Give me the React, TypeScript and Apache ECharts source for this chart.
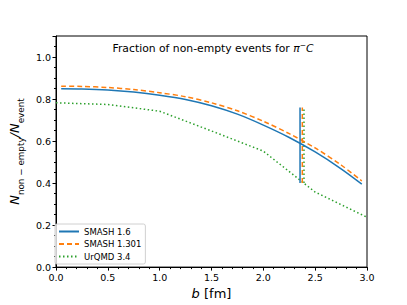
import React, { useEffect, useRef } from "react";
import * as echarts from "echarts";

const bSmash = [0.05, 0.25, 0.5, 0.75, 1.0, 1.25, 1.5, 1.75, 2.0, 2.25, 2.5, 2.75, 2.95];
const smash16 = [0.849, 0.848, 0.843, 0.833, 0.818, 0.798, 0.768, 0.728, 0.676, 0.617, 0.548, 0.468, 0.395];
const smash1301 = [0.861, 0.86, 0.855, 0.845, 0.83, 0.811, 0.782, 0.744, 0.694, 0.635, 0.567, 0.486, 0.41];
const bUrqmd = [0.0, 0.5, 1.0, 1.5, 2.0, 2.5, 3.0];
const urqmd = [0.782, 0.774, 0.742, 0.648, 0.552, 0.357, 0.237];
const seriesNames = ["SMASH 1.6", "SMASH 1.301", "UrQMD 3.4"];
const markerB = [2.354, 2.376, 2.392];
const markerRange = [0.4, 0.76];
const colors = ["#1f77b4", "#ff7f0e", "#2ca02c"];
const lineTypes: any[] = ["solid", [5, 3], [1.5, 2.5]];

const FONT = "DejaVu Sans";

export default function App() {
  const ref = useRef<HTMLDivElement>(null);
  useEffect(() => {
    if (!ref.current) return;
    const chart = echarts.init(ref.current, null, { renderer: "svg" });
    const curves = [
      bSmash.map((b, i) => [b, smash16[i]]),
      bSmash.map((b, i) => [b, smash1301[i]]),
      bUrqmd.map((b, i) => [b, urqmd[i]]),
    ];
    const series: any[] = [];
    curves.forEach((d, i) => {
      series.push({
        name: seriesNames[i],
        type: "line",
        data: d,
        smooth: i < 2 ? 0.3 : false,
        symbol: "none",
        showSymbol: false,
        lineStyle: { color: colors[i], width: 1.5, type: lineTypes[i] },
        itemStyle: { color: colors[i] },
        z: 3 - i,
      });
    });
    markerB.forEach((b, i) => {
      series.push({
        name: "marker" + i,
        type: "line",
        data: [
          [b, markerRange[0]],
          [b, markerRange[1]],
        ],
        symbol: "none",
        lineStyle: { color: colors[i], width: 1.5, type: lineTypes[i] },
        z: 3 - i,
      });
    });
    chart.setOption({
      animation: false,
      textStyle: { fontFamily: FONT },
      title: {
        text: "{a|Fraction of non-empty events for }{i|π}{s|−}{i|C}",
        left: 208,
        textAlign: "center",
        top: 36,
        textStyle: {
          fontWeight: "normal",
          rich: {
            a: { fontFamily: FONT, fontSize: 10.8, fontWeight: "normal", color: "#000" },
            i: { fontFamily: FONT, fontSize: 10.8, fontStyle: "italic", fontWeight: "normal", color: "#000" },
            s: { fontFamily: FONT, fontSize: 7.5, fontWeight: "normal", color: "#000", verticalAlign: "top", lineHeight: 14 },
          },
        },
      },
      legend: {
        left: 55,
        top: 224,
        orient: "vertical",
        data: seriesNames,
        itemWidth: 20,
        itemHeight: 10,
        itemGap: 3.5,
        padding: [3, 4, 3, 3],
        borderColor: "#d0d0d0",
        borderWidth: 1,
        borderRadius: 2,
        backgroundColor: "rgba(255,255,255,0.8)",
        itemStyle: { opacity: 0 },
        textStyle: { fontFamily: FONT, fontSize: 8.5, color: "#000" },
      },
      grid: {
        left: 51,
        right: 40,
        top: 36,
        bottom: 34,
        show: true,
        borderColor: "#000",
        borderWidth: 1,
      },
      xAxis: {
        type: "value",
        min: 0,
        max: 3,
        interval: 0.5,
        name: "{i|b} [fm]",
        nameLocation: "middle",
        nameGap: 15,
        nameTextStyle: {
          fontFamily: FONT,
          fontSize: 13,
          color: "#000",
          rich: { i: { fontFamily: FONT, fontSize: 13, fontStyle: "italic", color: "#000" } },
        },
        axisLine: { show: true, lineStyle: { color: "#000", width: 1 } },
        axisTick: { show: true, inside: false, length: 3.5, lineStyle: { color: "#000" } },
        minorTick: { show: true, splitNumber: 5, length: 2, lineStyle: { color: "#000" } },
        splitLine: { show: false },
        axisLabel: {
          fontFamily: FONT,
          fontSize: 9.5,
          color: "#000",
          margin: 5,
          formatter: (v: number) => v.toFixed(1),
        },
      },
      yAxis: {
        type: "value",
        min: 0,
        max: 1.1,
        interval: 0.2,
        name: "{n|N}{s|non − empty}{n|/N}{s|event}",
        nameLocation: "middle",
        nameGap: 26,
        nameTextStyle: {
          rich: {
            n: { fontFamily: FONT, fontSize: 13, fontStyle: "italic", fontWeight: "normal", color: "#000", lineHeight: 17, verticalAlign: "top" },
            s: { fontFamily: FONT, fontSize: 8.8, color: "#000", lineHeight: 17, verticalAlign: "bottom" },
          },
        },
        axisLine: { show: true, lineStyle: { color: "#000", width: 1 } },
        axisTick: { show: true, inside: false, length: 3.5, lineStyle: { color: "#000" } },
        minorTick: { show: true, splitNumber: 4, length: 2, lineStyle: { color: "#000" } },
        splitLine: { show: false },
        axisLabel: {
          fontFamily: FONT,
          fontSize: 9.5,
          color: "#000",
          margin: 5,
          showMaxLabel: false,
          formatter: (v: number) => (v > 1.05 ? "" : v.toFixed(1)),
        },
      },
      series,
    });
    return () => chart.dispose();
  }, []);
  return <div ref={ref} style={{ width: 407, height: 305, position: "absolute", left: 0, top: 0 }} />;
}
